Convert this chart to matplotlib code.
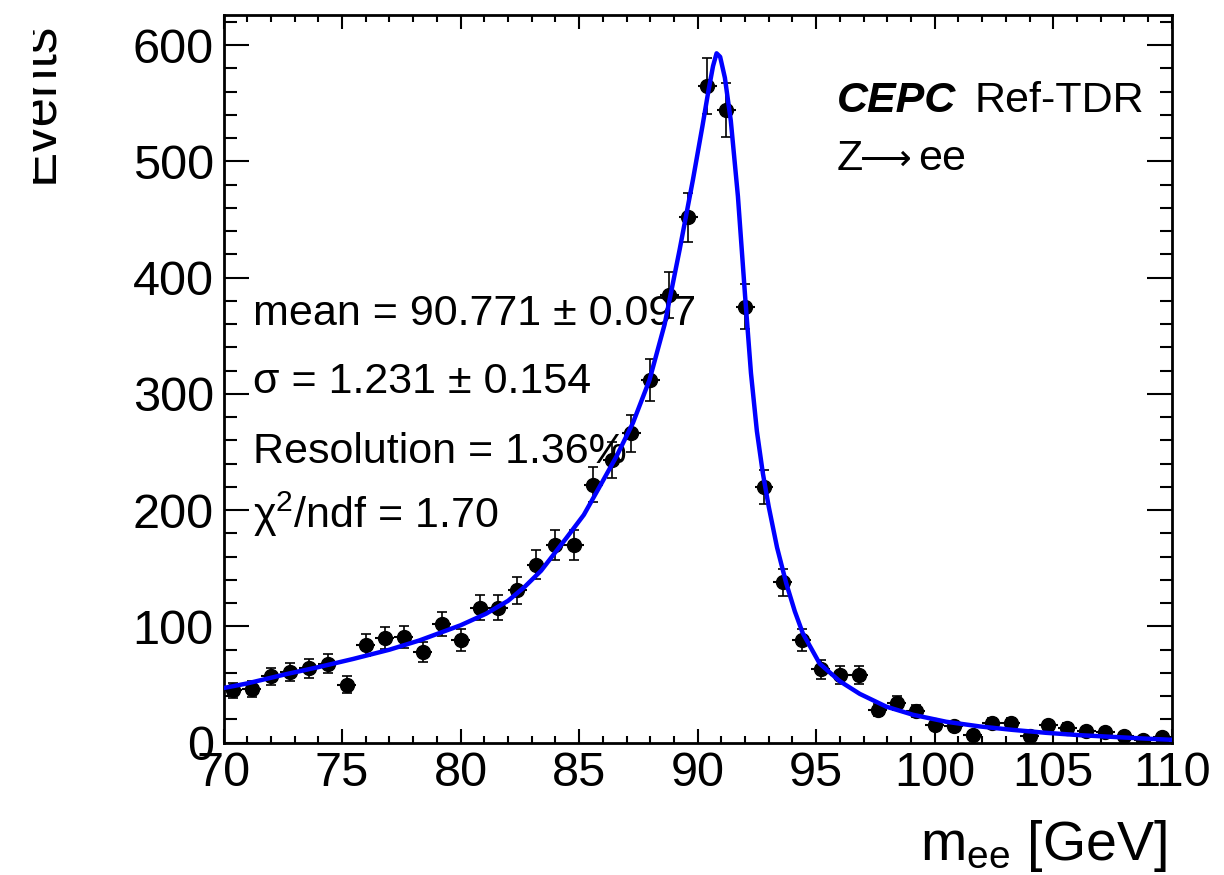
import numpy as np
import matplotlib
matplotlib.use('Agg')
import matplotlib.pyplot as plt
import matplotlib.ticker as mticker
from matplotlib.transforms import Bbox, TransformedBbox

plt.rcParams['font.family'] = ['Liberation Sans', 'DejaVu Sans']
plt.rcParams['mathtext.fontset'] = 'custom'
plt.rcParams['mathtext.rm'] = 'Liberation Sans'
plt.rcParams['mathtext.it'] = 'Liberation Sans:italic'
plt.rcParams['mathtext.default'] = 'regular'

# histogram: 50 bins of 0.8 GeV between 70 and 110
bin_edges = np.linspace(70, 110, 51)
counts = [45, 46, 57, 61, 64, 68, 50, 84, 90, 91,
          78, 102, 88, 116, 116, 131, 153, 170, 170, 222,
          243, 266, 312, 385, 452, 565, 544, 375, 220, 138,
          88, 63, 58, 58, 28, 34, 27, 15, 14, 7,
          17, 17, 6, 15, 13, 10, 9, 6, 2, 5]

# fit curve
fit_x = [70.0, 71.0, 72.65, 74.0, 75.46, 77.0, 78.27, 80.0, 81.08, 82.0,
         82.7, 83.4, 84.46, 85.2, 85.86, 86.57, 87.27, 87.97, 88.61, 89.24,
         89.8, 90.2, 90.45, 90.65, 90.8, 90.95, 91.15, 91.4, 91.7, 92.0,
         92.25, 92.5, 92.75, 93.0, 93.35, 93.74, 94.1, 94.44, 95.15, 95.99,
         96.84, 97.96, 99.09, 100.49, 101.9, 103.3, 104.7, 106.1, 107.5, 108.9, 110.0]
fit_y = [47, 51, 59, 65, 72, 80, 88, 101, 111, 122,
         134, 148, 176, 196, 220, 246, 275, 312, 360, 424,
         484, 530, 560, 582, 593, 590, 572, 535, 470, 385,
         318, 268, 232, 203, 168, 137, 113, 94, 68, 53,
         42, 31, 24, 18, 14, 11, 8.5, 6.5, 5, 3.5, 2.5]

centers = 0.5 * (bin_edges[:-1] + bin_edges[1:])
half_width = 0.5 * (bin_edges[1] - bin_edges[0])
counts = np.array(counts, dtype=float)
errors = np.sqrt(counts)

fig = plt.figure(figsize=(12.24, 8.75), dpi=100)
ax = fig.add_axes([0.1826, 0.1512, 0.7747, 0.8317])

ax.errorbar(centers, counts, xerr=half_width, fmt='none', ecolor='black',
            elinewidth=1.5, capsize=0, zorder=2)
ax.errorbar(centers, counts, yerr=errors, fmt='o', color='black', ms=10,
            elinewidth=1.2, capsize=3.5, capthick=1.2, zorder=3)
ax.plot(fit_x, fit_y, color='#0000ff', lw=3.2, zorder=4)

ax.set_xlim(70, 110)
ax.set_ylim(0, 626)
ax.xaxis.set_major_locator(mticker.MultipleLocator(5))
ax.xaxis.set_minor_locator(mticker.MultipleLocator(1))
ax.yaxis.set_major_locator(mticker.MultipleLocator(100))
ax.yaxis.set_minor_locator(mticker.MultipleLocator(20))
ax.tick_params(which='both', direction='in', top=True, right=True, width=1.5,
               labelsize=35)
ax.tick_params(axis='x', which='major', length=10, pad=6)
ax.tick_params(axis='x', which='minor', length=5)
ax.tick_params(axis='y', which='major', length=18, pad=7)
ax.tick_params(axis='y', which='minor', length=9)
for sp in ax.spines.values():
    sp.set_linewidth(2)

# fit results
ax.text(71.24, 359, 'mean = 90.771 ± 0.097', fontsize=31, va='baseline')
ax.text(71.24, 301, 'σ = 1.231 ± 0.154', fontsize=31, va='baseline')
ax.text(71.24, 241, 'Resolution = 1.36%', fontsize=31, va='baseline')
ax.text(71.24, 185, 'χ$^{2}$/ndf = 1.70', fontsize=31, va='baseline')

# labels
ax.text(0.6467, 0.8671, 'CEPC', transform=ax.transAxes, fontsize=31,
        fontweight='bold', fontstyle='italic', va='baseline')
ax.text(0.7925, 0.8671, 'Ref-TDR', transform=ax.transAxes, fontsize=31, va='baseline')
ax.text(0.6467, 0.787, 'Z', transform=ax.transAxes, fontsize=31, va='baseline')
ax.text(0.6717, 0.787, '⟶', transform=ax.transAxes, fontsize=26, va='baseline',
        family='DejaVu Sans')
ax.text(0.7327, 0.787, 'ee', transform=ax.transAxes, fontsize=31, va='baseline')

fig.text(1167 / 1224, 1 - 860 / 875, 'm$_{ee}$ [GeV]', fontsize=40,
         ha='right', va='baseline')

# y title, cut at the left edge as in the original
yt = fig.text(52 / 1224, 1 - 22 / 875, 'Events', fontsize=38, rotation=90,
              rotation_mode='anchor', ha='right', va='baseline')
yt.set_clip_box(TransformedBbox(Bbox([[33 / 1224, 0], [1, 1]]), fig.transFigure))
yt.set_clip_on(True)

fig.savefig('out.png', dpi=100)
